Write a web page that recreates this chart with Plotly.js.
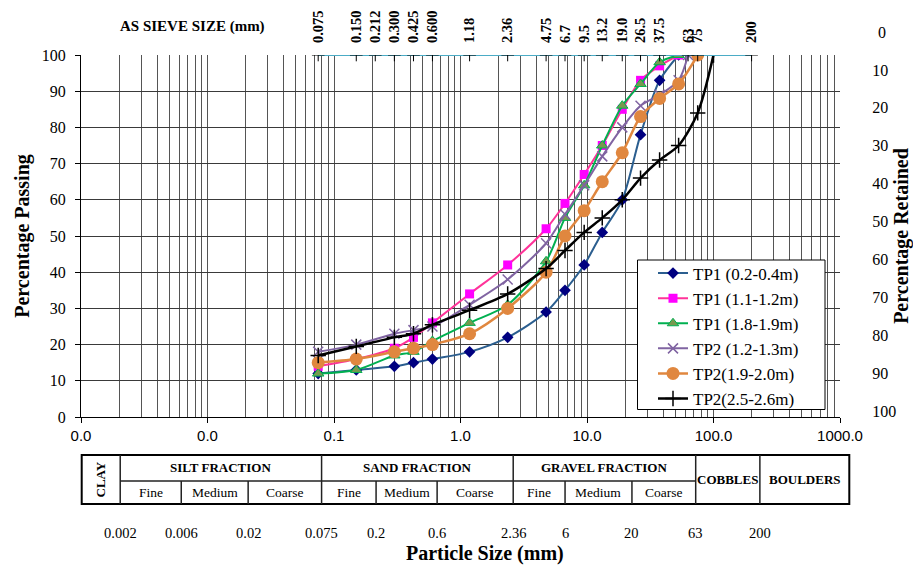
<!DOCTYPE html>
<html><head><meta charset="utf-8">
<script src="https://cdn.plot.ly/plotly-3.0.1.min.js"></script>
<style>html,body{margin:0;padding:0;background:#fff}#chart{width:913px;height:567px}</style>
</head><body><div id="chart"></div>
<script>
// ---- AS sieve sizes (top axis) ----
const sieveSizes  = [0.075,0.150,0.212,0.300,0.425,0.600,1.18,2.36,4.75,6.7,9.5,13.2,19.0,26.5,37.5,63,75,200];
const sieveLabels = ['0.075','0.150','0.212','0.300','0.425','0.600','1.18','2.36','4.75','6.7','9.5','13.2','19.0','26.5','37.5','63','75','200'];
const sieveLine   = [100,100,100,100,100,100,100,100,100,100,100,100,100,100,100,100,100,100];

// ---- test results ----
const seriesNames = ['TP1 (0.2-0.4m)','TP1 (1.1-1.2m)','TP1 (1.8-1.9m)','TP2 (1.2-1.3m)','TP2(1.9-2.0m)','TP2(2.5-2.6m)'];
const sizeTP1 = [0.075,0.15,0.3,0.425,0.6,1.18,2.36,4.75,6.7,9.5,13.2,19,26.5,37.5,53];
const passTP1a = [12,13,14,15,16,18,22,29,35,42,51,60,78,93,100];
const passTP1b = [14,16,19,22,26,34,42,52,59,67,75,85,93,97,100];
const passTP1c = [12,13,17,18,21,26,31,43,55,64,75,86,92,98,100];
const sizeTP2a = [0.075,0.15,0.3,0.425,0.6,1.18,2.36,4.75,6.7,9.5,13.2,19,26.5,37.5,53,63];
const passTP2a = [18,20,23,24,25,31,38,48,56,64,72,80,86,89,93,100];
const sizeTP2b = [0.075,0.15,0.3,0.425,0.6,1.18,2.36,4.75,6.7,9.5,13.2,19,26.5,37.5,53,75];
const passTP2b = [15,16,18,19,20,23,30,40,50,57,65,73,83,88,92,100];
const sizeTP2c = [0.075,0.15,0.3,0.425,0.6,1.18,2.36,4.75,6.7,9.5,13.2,19,26.5,37.5,53,75,100];
const passTP2c = [17,19.5,22,23,25.5,29.5,34,41,46,51,55,60,66,71,75,84,100];

// ---- retained axis ticks ----
const retainedTicks = [10,20,30,40,50,60,70,80,90,100];
const retainedTop = '0';

// ---- classification table ----
const classBounds = [0.002,0.006,0.02,0.075,0.2,0.6,2.36,6,20,63,200];
const classBoundLabels = ['0.002','0.006','0.02','0.075','0.2','0.6','2.36','6','20','63','200'];
const fractionNames = ['SILT FRACTION','SAND FRACTION','GRAVEL FRACTION'];
const subNames = ['Fine','Medium','Coarse'];

// ---- geometry helpers (pixel -> paper) ----
const W = 913, H = 567;
const M = {l:81, r:73, t:55, b:150};
const PW = W - M.l - M.r, PH = H - M.t - M.b;
const PX = p => (p - M.l) / PW;
const PY = p => (H - M.b - p) / PH;
// table uses its own log scale from 0.001 to 1000
const TL = 81.7, TR = 849.3;
const TX = v => PX(TL + (TR - TL) * (Math.log10(v) + 3) / 6);
const TT = 455, TM = 481, TB = 504;
// retained scale: 0 at pixel 32, 100 at pixel 411 -> range over plot height (55..417)
const R0 = 32, R100 = 411, rPer = (R100 - R0) / 100;
const retRange = [(417 - R0) / rPer, (55 - R0) / rPer];

const serif = 'Liberation Serif, Times New Roman, serif';
const sans = 'Liberation Sans, Arial, sans-serif';

const traces = [
  {x: sieveSizes, y: sieveLine, xaxis:'x3', yaxis:'y', mode:'lines+markers', showlegend:false, hoverinfo:'skip',
   line:{color:'#4bacc6', width:2}, marker:{symbol:'cross-thin-open', size:9, color:'#000', line:{width:1, color:'#000'}}},
  {name: seriesNames[0], x: sizeTP1, y: passTP1a, mode:'lines+markers',
   line:{color:'#2b5e8f', width:2, shape:'spline', smoothing:0.8},
   marker:{symbol:'diamond', size:9, color:'#000080'}},
  {name: seriesNames[1], x: sizeTP1, y: passTP1b, mode:'lines+markers',
   line:{color:'#ff3399', width:2, shape:'spline', smoothing:0.8},
   marker:{symbol:'square', size:9, color:'#ff00ff'}},
  {name: seriesNames[2], x: sizeTP1, y: passTP1c, mode:'lines+markers',
   line:{color:'#00b050', width:2, shape:'spline', smoothing:0.8},
   marker:{symbol:'triangle-up', size:10, color:'#77994f', line:{color:'#00b050', width:1}}},
  {name: seriesNames[3], x: sizeTP2a, y: passTP2a, mode:'lines+markers',
   line:{color:'#8064a2', width:2, shape:'spline', smoothing:0.8},
   marker:{symbol:'x-thin-open', size:10, color:'#8064a2', line:{color:'#8064a2', width:1.5}}},
  {name: seriesNames[4], x: sizeTP2b, y: passTP2b, mode:'lines+markers',
   line:{color:'#e0873f', width:2.5, shape:'spline', smoothing:0.8},
   marker:{symbol:'circle', size:13, color:'#e0873f'}},
  {name: seriesNames[5], x: sizeTP2c, y: passTP2c, mode:'lines+markers',
   line:{color:'#000000', width:2.5, shape:'spline', smoothing:0.8},
   marker:{symbol:'cross-thin-open', size:11, color:'#000', line:{color:'#000', width:1.5}}},
  // carrier for the retained (right) axis
  {x: [0.001, 0.001], y: [10, 100], yaxis:'y2', mode:'markers', marker:{opacity:0}, showlegend:false, hoverinfo:'skip'}
];

const shapes = [];
const ann = [];
shapes.push({type:'rect', xref:'paper', yref:'paper', x0:PX(637.5), x1:PX(825), y0:PY(260), y1:PY(409.5),
  line:{color:'#000', width:1}, fillcolor:'#fff', layer:'above'});
shapes.push({type:'rect', xref:'paper', yref:'paper', x0:PX(TL), x1:PX(TR), y0:PY(TT), y1:PY(TB),
  line:{color:'#000', width:2}, fillcolor:'rgba(0,0,0,0)'});
[0,3,6,9,10].forEach(i => shapes.push({type:'line', xref:'paper', yref:'paper',
  x0:TX(classBounds[i]), x1:TX(classBounds[i]), y0:PY(TT), y1:PY(TB), line:{color:'#222', width:1.5}}));
shapes.push({type:'line', xref:'paper', yref:'paper', x0:TX(classBounds[0]), x1:TX(classBounds[9]),
  y0:PY(TM), y1:PY(TM), line:{color:'#222', width:1.5}});
[1,2,4,5,7,8].forEach(i => shapes.push({type:'line', xref:'paper', yref:'paper',
  x0:TX(classBounds[i]), x1:TX(classBounds[i]), y0:PY(TM), y1:PY(TB), line:{color:'#222', width:1.5}}));

const gmean = (a,b) => Math.sqrt(a*b);
const txt = (x, y, text, size, bold, extra) => Object.assign({xref:'paper', yref:'paper', x, y, text,
  showarrow:false, xanchor:'center', yanchor:'middle',
  font:{family:serif, size, color:'#000', weight: bold ? 'bold' : 'normal'}}, extra || {});

ann.push(txt(TX(gmean(0.001, classBounds[0])), PY((TT+TB)/2), 'CLAY', 13, true, {textangle:-90}));
for (let f = 0; f < 3; f++) {
  const a = classBounds[f*3], b = classBounds[f*3+3];
  ann.push(txt(TX(gmean(a,b)), PY((TT+TM)/2), fractionNames[f], 13, true));
  for (let s = 0; s < 3; s++) {
    const c = classBounds[f*3+s], d = classBounds[f*3+s+1];
    ann.push(txt(TX(gmean(c,d)), PY((TM+TB)/2), subNames[s], 13.5, false));
  }
}
ann.push(txt(TX(gmean(classBounds[9], classBounds[10])), PY((TT+TB)/2), 'COBBLES', 13, true));
ann.push(txt(TX(gmean(classBounds[10], 1000)), PY((TT+TB)/2), 'BOULDERS', 13, true));
classBounds.forEach((v,i) => ann.push(txt(TX(v), PY(533), classBoundLabels[i], 14.5, false)));
ann.push(txt(PX(192), PY(27), 'AS SIEVE SIZE (mm)', 15, true));
ann.push(txt(PX(485), PY(553), 'Particle Size (mm)', 20, true));
ann.push(txt(PX(882), PY(R0), retainedTop, 16, false));

const vGrid = '#555', hGrid = '#3a3a3a';
const layout = {
  width: W, height: H, margin: M,
  paper_bgcolor:'#fff', plot_bgcolor:'#fff',
  showlegend: true,
  legend: {x: PX(653), y: PY(255.5), xanchor:'left', yanchor:'top', bgcolor:'rgba(0,0,0,0)',
    borderwidth:0, font:{family:serif, size:17, color:'#000'}, tracegroupgap:0},
  xaxis: {type:'log', range:[-3,3], tickmode:'linear', tick0:0, dtick:1, tickformat:'.1f',
    tickfont:{family:sans, size:15, color:'#000'}, ticks:'outside', ticklen:5, tickcolor:'#000',
    showline:true, linecolor:'#000', linewidth:1, zeroline:false,
    showgrid:true, gridcolor:vGrid, gridwidth:1,
    minor:{dtick:'D1', showgrid:true, gridcolor:vGrid, gridwidth:1, ticks:''}},
  xaxis3: {type:'log', range:[-3,3], overlaying:'x', side:'top', anchor:'y', tickmode:'array',
    tickvals: sieveSizes, ticktext: sieveLabels, tickangle:-90,
    tickfont:{family:serif, size:14.5, color:'#000', weight:'bold'},
    ticks:'outside', ticklen:8, tickcolor:'rgba(0,0,0,0)', showgrid:false, showline:false, zeroline:false},
  yaxis: {range:[0,100], dtick:10, tickfont:{family:serif, size:16, color:'#000'},
    ticks:'outside', ticklen:5, tickcolor:'#000', ticklabelstandoff:6, showline:true, linecolor:'#000', linewidth:1,
    showgrid:true, gridcolor:hGrid, zeroline:false,
    title:{text:'Percentage Passing', font:{family:serif, size:20, color:'#000', weight:'bold'}, standoff:6}},
  yaxis2: {overlaying:'y', side:'right', range: retRange, tickmode:'array', tickvals: retainedTicks,
    tickfont:{family:serif, size:16, color:'#000'},
    ticks:'outside', ticklen:28, tickcolor:'rgba(0,0,0,0)', showgrid:false, showline:false, zeroline:false,
    title:{text:'Percentage Retained', font:{family:serif, size:20, color:'#000', weight:'bold'}, standoff:2}},
  shapes, annotations: ann
};

Plotly.newPlot('chart', traces, layout, {displayModeBar:false, staticPlot:true});
</script></body></html>
